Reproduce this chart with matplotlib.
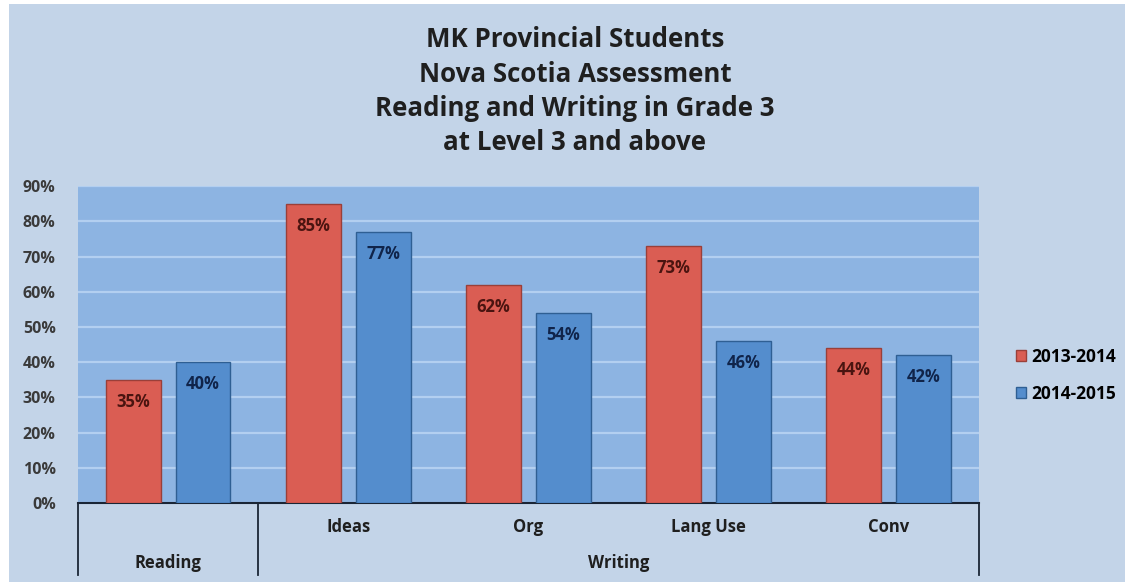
import numpy as np
import matplotlib.pyplot as plt
import matplotlib.transforms as mtransforms
from matplotlib.patches import Rectangle


# Chart data

categories = ["", "Ideas", "Org", "Lang Use", "Conv"]
groups = ["Reading", "Writing"]
group_sizes = [1, 4]

series_names = ["2013-2014", "2014-2015"]
values_2013 = [0.35, 0.85, 0.62, 0.73, 0.44]
values_2014 = [0.40, 0.77, 0.54, 0.46, 0.42]

y_ticks = [0.0, 0.1, 0.2, 0.3, 0.4, 0.5, 0.6, 0.7, 0.8, 0.9]
y_tick_labels = ["0%", "10%", "20%", "30%", "40%", "50%", "60%", "70%", "80%", "90%"]

title_lines = [
    "MK Provincial Students",
    "Nova Scotia Assessment",
    "Reading and Writing in Grade 3",
    "at Level 3 and above",
]


# Styling

plt.rcParams["font.family"] = ["Open Sans", "DejaVu Sans"]

fig_bg = "#c3d4e8"
plot_bg = "#8db4e2"
grid_color = "#b3cff0"
red = "#da5d53"
red_edge = "#9a3f39"
blue = "#548dcd"
blue_edge = "#2f5f93"
text_dark = "#1f1f1f"

fig = plt.figure(figsize=(11.25, 5.82), dpi=100, facecolor="white")

# The slide background leaves a thin white margin at the top and left
fig.patches.append(
    Rectangle(
        (9 / 1125, 0), 1 - 9 / 1125, 1 - 4 / 582,
        transform=fig.transFigure, facecolor=fig_bg,
        edgecolor="none", zorder=-10
    )
)

ax = fig.add_axes([0.0693, 0.1357, 0.8007, 0.5443])
ax.set_facecolor(plot_bg)

x = np.arange(len(categories))
bar_width = 0.305
offset = 0.194

bars_a = ax.bar(
    x - offset, values_2013, bar_width,
    color=red, edgecolor=red_edge, linewidth=1.0,
    label=series_names[0], zorder=3
)
bars_b = ax.bar(
    x + offset, values_2014, bar_width,
    color=blue, edgecolor=blue_edge, linewidth=1.0,
    label=series_names[1], zorder=3
)


# Value labels inside the bar tops

for bar, v in zip(bars_a, values_2013):
    ax.text(
        bar.get_x() + bar.get_width() / 2, v - 0.063,
        f"{round(v * 100)}%", ha="center", va="center",
        fontsize=12, fontweight="bold", color="#4a1410", zorder=4
    )

for bar, v in zip(bars_b, values_2014):
    ax.text(
        bar.get_x() + bar.get_width() / 2, v - 0.063,
        f"{round(v * 100)}%", ha="center", va="center",
        fontsize=12, fontweight="bold", color="#10244a", zorder=4
    )


# Axes

ax.set_xlim(-0.5, len(categories) - 0.5)
ax.set_ylim(0, 0.9)
ax.set_yticks(y_ticks)
ax.set_yticklabels(y_tick_labels, fontsize=11.5, fontweight="bold", color="#3a3a3a")
ax.tick_params(axis="y", length=0, pad=16)
ax.set_xticks([])

ax.yaxis.grid(True, color=grid_color, linewidth=1.6, zorder=1)
ax.set_axisbelow(True)

for side in ["top", "right", "left"]:
    ax.spines[side].set_visible(False)
ax.spines["bottom"].set_color("#1a2535")
ax.spines["bottom"].set_linewidth(1.5)


# Multi-level category axis

trans = mtransforms.blended_transform_factory(ax.transData, ax.transAxes)
axis_depth = -0.227

boundaries = [-0.5]
for size in group_sizes:
    boundaries.append(boundaries[-1] + size)

for b in boundaries:
    ax.plot(
        [b, b], [0, axis_depth], transform=trans,
        color="#1a2535", linewidth=1.3, clip_on=False
    )

for xi, name in zip(x, categories):
    ax.text(
        xi, -0.075, name, transform=trans, ha="center", va="center",
        fontsize=12, fontweight="bold", color=text_dark
    )

for i, name in enumerate(groups):
    center = (boundaries[i] + boundaries[i + 1]) / 2
    ax.text(
        center, -0.19, name, transform=trans, ha="center", va="center",
        fontsize=12, fontweight="bold", color=text_dark
    )


# Title

fig.text(
    0.511, 0.843, "\n".join(title_lines),
    ha="center", va="center", fontsize=18.6, fontweight="bold",
    color=text_dark, linespacing=1.35
)


# Legend

fig.legend(
    handles=[bars_a, bars_b], labels=series_names,
    loc="center left", bbox_to_anchor=(0.889, 0.355),
    frameon=False, handlelength=0.6, handleheight=0.6,
    handletextpad=0.3, labelspacing=1.1,
    prop={"size": 12.5, "weight": "bold"}
)

fig.savefig("out.png", dpi=100, facecolor="white")
